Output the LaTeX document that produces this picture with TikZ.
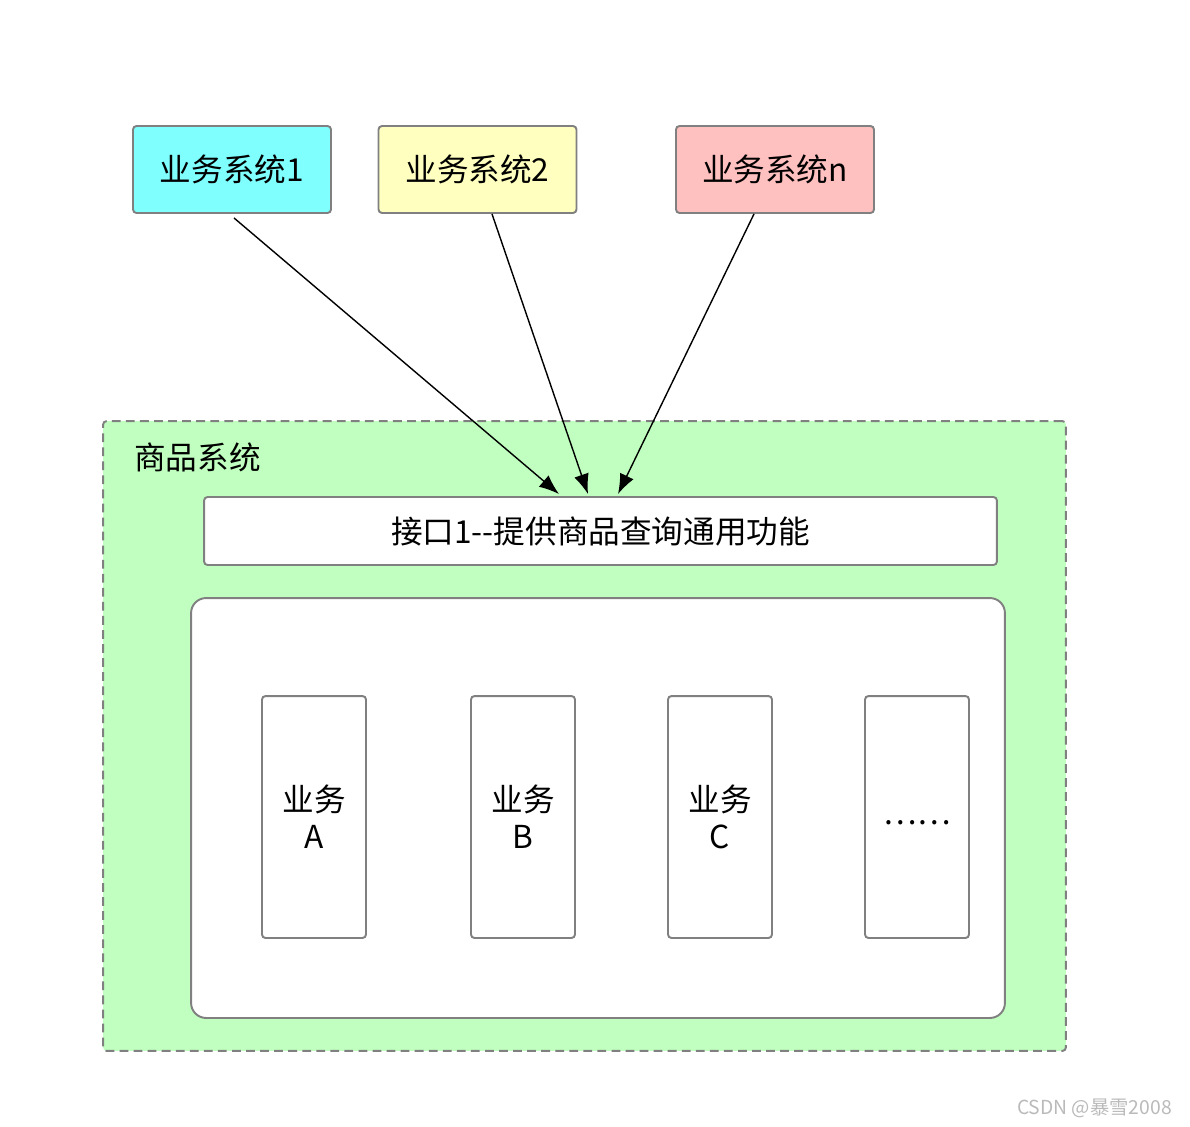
\documentclass[tikz,border=0pt]{standalone}
\usepackage{fontspec}
\newfontfamily\cjk{Noto Sans CJK SC}
\usetikzlibrary{arrows.meta,calc}

\definecolor{sysA}{HTML}{80FFFF}
\definecolor{sysB}{HTML}{FFFFC0}
\definecolor{sysN}{HTML}{FFC0C0}
\definecolor{goods}{HTML}{C0FFC0}
\definecolor{edge}{HTML}{808080}

\tikzset{
  sysbox/.style={draw=edge,line width=1.1pt,rounded corners=2pt,minimum width=3.96cm,minimum height=1.74cm},
  bizbox/.style={draw=edge,line width=1.1pt,fill=white,rounded corners=2pt,minimum width=2.08cm,minimum height=4.84cm,align=center},
  call/.style={-{Latex[length=0.4cm,width=0.3cm]},line width=0.8pt}
}

\begin{document}
\begin{tikzpicture}[x=0.02cm,y=-0.02cm,font=\cjk\fontsize{18pt}{21pt}\selectfont]
\useasboundingbox (0,0) rectangle (1190,1126);

% callers
\node[sysbox,fill=sysA] (box1) at (232,169.5) {业务系统1};
\node[sysbox,fill=sysB] (box2) at (477.5,169.5) {业务系统2};
\node[sysbox,fill=sysN] (boxn) at (775,169.5) {业务系统n};

% goods system
\node[draw=edge,dash pattern=on 5pt off 3pt,line width=1.1pt,fill=goods,rounded corners=2pt,
  minimum width=19.26cm,minimum height=12.6cm] (goods) at (584.5,736) {};
\node[anchor=west] (title) at (128,457) {商品系统};
\node[draw=edge,line width=1.1pt,fill=white,rounded corners=2pt,
  minimum width=15.86cm,minimum height=1.36cm] (iface) at (600.5,531) {接口1--提供商品查询通用功能};
\node[draw=edge,line width=1.1pt,fill=white,rounded corners=0.3cm,
  minimum width=16.28cm,minimum height=8.4cm] (core) at (598,808) {};

\node[bizbox] (bizA) at (314,817) {业务\\A};
\node[bizbox] (bizB) at (523,817) {业务\\B};
\node[bizbox] (bizC) at (720,817) {业务\\C};
\node[bizbox] (bizD) at (917,817) {\raisebox{-0.3cm}{……}};

\draw[call] ($(box1.south)+(2,4)$) -- ($(iface.north)+(-41.5,-2)$);
\draw[call] ($(box2.south)+(14.5,0)$) -- ($(iface.north)+(-12.5,-2)$);
\draw[call] ($(boxn.south)+(-21,0)$) -- ($(iface.north)+(17.5,-2)$);

\node[anchor=east,text=black!27,font=\cjk\fontsize{11pt}{13pt}\selectfont] (mark) at (1178,1108) {CSDN @暴雪2008};
\end{tikzpicture}
\end{document}
